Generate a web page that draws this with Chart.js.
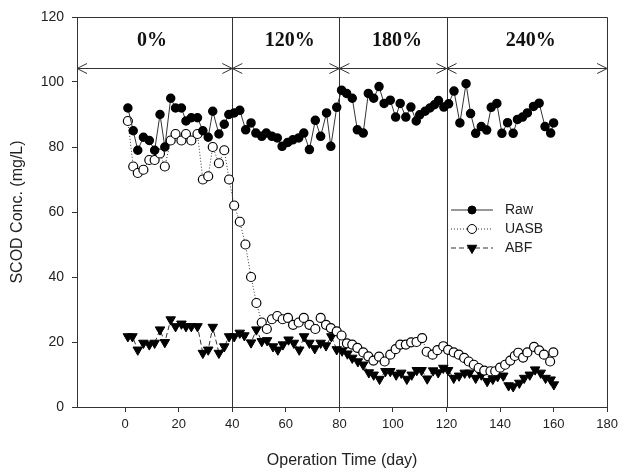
<!DOCTYPE html>
<html>
<head>
<meta charset="utf-8">
<script src="https://cdn.jsdelivr.net/npm/chart.js@4.4.0/dist/chart.umd.min.js"></script>
<style>
html, body { margin: 0; padding: 0; background: #fff; }
canvas { display: block; }
</style>
</head>
<body>
<canvas id="chart" width="623" height="473"></canvas>
<script>
// data
const rawDays = [1,3,4.7,6.8,9,11,13,14.8,17,18.8,21,22.7,24.7,27,29,31,32.7,35,37,38.7,
    40.7,42.8,45,47,48.8,51,52.7,54.8,56.8,58.6,60.7,62.6,64.8,66.7,68.8,71,73,75.2,76.8,79,
    80.8,82.7,84.8,86.7,88.9,90.8,92.8,94.8,96.7,99,101,102.7,104.8,106.7,108.7,110,112,113.8,115.5,117,119,
    120.8,122.8,125,127.3,129,130.9,133,135,136.7,138.8,140.7,142.8,144.9,146.5,148.4,150.2,152.5,154.6,156.8,158.9,160];
const rawValues = [92,85,79,83,82,79,90,80,95,92,92,88,89,89,85,83,91,84,87,90,
    90.5,91.3,85.3,87.4,84.3,83.3,84.3,83.3,82.8,80.2,81.4,82.2,82.8,84.3,79.2,88.2,83.3,90.5,80.2,92.2,
    97.5,96.5,95,85.3,84.3,96.5,95,98.6,93.4,94.4,89.2,93.4,89.2,92.3,88,89.9,91,92,93,94.3,92.3,
    93.3,97.2,87.4,99.5,90.3,84.2,86.3,85.2,92.2,93.4,84.2,87.5,84.2,88.5,89.2,90.5,92.5,93.5,86.3,84.3,87.4];

const uasbDays = [1,3,4.7,6.8,9,11,13,14.8,17,18.8,21,22.7,24.7,27,29,31,32.7,35,37,38.8,
    40.7,42.8,44.9,47,49,51,52.9,54.8,56.8,58.8,60.8,62.7,64.8,66.7,68.8,71,73,75,76.8,79,
    80.8,82.8,84.8,86.7,88.9,90.8,92.7,94.8,96.9,99,101,102.7,104.8,106.8,108.8,110.9,112.6,114.8,116.6,118.8,
    120.6,122.7,124.6,126.6,128.3,130.2,132,134.1,136.4,138.2,140,141.9,143.8,145.5,146.8,148.6,150.2,152.7,154.6,156.4,158.7,159.9];
const uasbValues = [88,74,72,73,76,76,78,74,82,84,82,84,82,84,70,71,80,75,79,70,
    62,57,50,40,32,26,24,27,28,27,27.4,25.3,26,27.4,25.3,24,27.4,25.3,24.3,23.3,
    22,19.6,19.2,18.2,16.8,15.6,14.3,15.5,14,16.1,17.8,19.2,19.2,19.9,20,21.2,17,16.1,17.5,18.7,
    17.6,16.8,16.1,15.1,14,13,12,11.2,11,11,12.1,13,14.3,15.7,16.7,15.2,16.8,18.5,17.4,16.1,14,16.8];

const abfDays = [1,2.7,4.7,6.8,9,11,13,14.8,17,18.8,21,22.7,24.7,27,29,31,32.7,35,37,38.8,
    40.7,42.8,44.5,47,49,51,53,55.2,57,58.9,61,63,65,66.8,68.8,70.8,73,75,77,79,
    81,83,84.8,86.9,88.9,91,92.8,95,97.2,99,101.2,103.1,105.2,107,108.9,110.7,112.8,115,116.9,118.8,
    120.6,122.7,124.7,126.8,128.6,130.9,133,135.2,137.3,139.1,141.2,143.2,144.9,147.2,149,151.1,153.1,155.2,157,158.9,160.1];
const abfValues = [21.7,21.7,17.6,19.7,19.2,19.7,23.8,19.9,26.9,24.8,25.6,24.8,24.8,24.8,16.6,17.6,24.6,16.6,18.6,21.7,
    21.7,22.8,22,19.8,23.8,20.2,20.5,18.6,17.6,19.2,20.7,19.7,17.6,21.7,19.7,18,19.7,18.9,21.7,17.7,
    17.3,16.4,15.1,14,13,10.6,9.9,8.6,11,11,9.9,10.5,8.6,9.9,11.3,11.3,8.7,11.2,10.6,12,
    11.3,8.9,9.6,10.5,10.5,8.9,9.9,7.9,8.6,9.4,9.6,6.6,6.3,7.4,8.9,9.9,11.5,10.5,8.9,8.4,6.9];

// phases
const phaseBounds = [-18, 40, 80, 120, 180];
const phaseLabels = ['0%', '120%', '180%', '240%'];
const phaseLabelDays = [10, 61.5, 101.5, 151.5];
const phaseLabelLevel = 112.6;
const arrowLevel = 104.2;

const xTicks = [0, 20, 40, 60, 80, 100, 120, 140, 160, 180];
const yTicks = [0, 20, 40, 60, 80, 100, 120];

const lineColor = '#333';
const textColor = '#222';
const sansFamily = 'Liberation Sans, Arial, sans-serif';

function toPoints(days, values) {
    return days.map(function(d, i) { return { x: d, y: values[i] }; });
}

const overlay = {
    id: 'overlay',
    beforeDatasetsDraw: function(chart) {
        const ctx = chart.ctx;
        const xs = chart.scales.x, ys = chart.scales.y;
        const area = chart.chartArea;
        ctx.save();
        ctx.strokeStyle = lineColor;
        ctx.lineWidth = 1;
        // phase separators
        phaseBounds.slice(1, -1).forEach(function(d) {
            const px = Math.round(xs.getPixelForValue(d)) + 0.5;
            ctx.beginPath();
            ctx.moveTo(px, area.top);
            ctx.lineTo(px, area.bottom);
            ctx.stroke();
        });
        // double arrow line
        const ay = Math.round(ys.getPixelForValue(arrowLevel)) + 0.5;
        ctx.beginPath();
        ctx.moveTo(area.left, ay);
        ctx.lineTo(area.right, ay);
        ctx.stroke();
        const aw = 10, ah = 5;
        phaseBounds.forEach(function(d, i) {
            const px = xs.getPixelForValue(d);
            ctx.beginPath();
            if (i < phaseBounds.length - 1) {
                ctx.moveTo(px + aw, ay - ah); ctx.lineTo(px, ay); ctx.lineTo(px + aw, ay + ah);
            }
            if (i > 0) {
                ctx.moveTo(px - aw, ay - ah); ctx.lineTo(px, ay); ctx.lineTo(px - aw, ay + ah);
            }
            ctx.stroke();
        });
        // phase labels
        ctx.fillStyle = '#111';
        ctx.font = 'bold 20px "Liberation Serif", "Times New Roman", serif';
        ctx.textAlign = 'center';
        ctx.textBaseline = 'middle';
        phaseLabels.forEach(function(t, i) {
            ctx.fillText(t, xs.getPixelForValue(phaseLabelDays[i]), ys.getPixelForValue(phaseLabelLevel));
        });
        ctx.restore();
    },
    afterDraw: function(chart) {
        const ctx = chart.ctx;
        const area = chart.chartArea;
        ctx.save();
        ctx.strokeStyle = lineColor;
        ctx.lineWidth = 1;
        ctx.beginPath();
        ctx.moveTo(Math.round(area.left) + 0.5, Math.round(area.top) + 0.5);
        ctx.lineTo(Math.round(area.right) + 0.5, Math.round(area.top) + 0.5);
        ctx.lineTo(Math.round(area.right) + 0.5, Math.round(area.bottom) + 0.5);
        ctx.stroke();

        // legend inside the plot
        const lx = 451, ly = 210, gap = 19;
        chart.data.datasets.forEach(function(ds, i) {
            const y = ly + i * gap;
            ctx.strokeStyle = lineColor;
            ctx.lineWidth = 1;
            ctx.setLineDash(ds.borderDash || []);
            ctx.beginPath();
            ctx.moveTo(lx, y);
            ctx.lineTo(lx + 42, y);
            ctx.stroke();
            ctx.setLineDash([]);
            ctx.fillStyle = ds.pointBackgroundColor;
            ctx.strokeStyle = ds.pointBorderColor;
            Chart.helpers.drawPoint(ctx, {
                pointStyle: ds.pointStyle,
                rotation: ds.pointRotation || 0,
                radius: ds.pointRadius,
                borderWidth: ds.pointBorderWidth
            }, lx + 21, y);
            ctx.fillStyle = textColor;
            ctx.font = '14px ' + sansFamily;
            ctx.textAlign = 'left';
            ctx.textBaseline = 'middle';
            ctx.fillText(ds.label, lx + 54, y);
        });
        ctx.restore();
    }
};

const ctx = document.getElementById('chart');
new Chart(ctx, {
    type: 'line',
    data: {
        datasets: [{
            label: 'Raw',
            data: toPoints(rawDays, rawValues),
            borderColor: lineColor,
            borderWidth: 1,
            pointStyle: 'circle',
            pointRadius: 4,
            pointBorderWidth: 1.5,
            pointBackgroundColor: '#000',
            pointBorderColor: '#000',
            fill: false
        }, {
            label: 'UASB',
            data: toPoints(uasbDays, uasbValues),
            borderColor: lineColor,
            borderWidth: 1,
            borderDash: [1, 2],
            pointStyle: 'circle',
            pointRadius: 4.5,
            pointBorderWidth: 1.2,
            pointBackgroundColor: '#fff',
            pointBorderColor: '#000',
            fill: false
        }, {
            label: 'ABF',
            data: toPoints(abfDays, abfValues),
            borderColor: lineColor,
            borderWidth: 1,
            borderDash: [5, 3],
            pointStyle: 'triangle',
            pointRotation: 180,
            pointRadius: 5.5,
            pointBorderWidth: 1,
            pointBackgroundColor: '#000',
            pointBorderColor: '#000',
            fill: false
        }]
    },
    options: {
        responsive: false,
        animation: false,
        layout: { padding: { left: 0, right: 11, top: 17, bottom: 0 } },
        plugins: { legend: { display: false }, tooltip: { enabled: false } },
        scales: {
            x: {
                type: 'linear',
                min: -18,
                max: 180,
                afterBuildTicks: function(scale) {
                    scale.ticks = xTicks.map(function(v) { return { value: v }; });
                },
                afterFit: function(scale) { scale.height = 66; },
                grid: { drawOnChartArea: false, drawTicks: true, tickLength: 5, color: lineColor },
                border: { color: lineColor, width: 1 },
                ticks: { color: textColor, font: { family: sansFamily, size: 13 }, padding: 5, maxRotation: 0, autoSkip: false },
                title: {
                    display: true,
                    text: 'Operation Time (day)',
                    color: textColor,
                    font: { family: sansFamily, size: 16 },
                    padding: { top: 0, bottom: 3 }
                }
            },
            y: {
                type: 'linear',
                min: 0,
                max: 120,
                afterBuildTicks: function(scale) {
                    scale.ticks = yTicks.map(function(v) { return { value: v }; });
                },
                afterFit: function(scale) { scale.width = 77; },
                grid: { drawOnChartArea: false, drawTicks: true, tickLength: 5, color: lineColor },
                border: { color: lineColor, width: 1 },
                ticks: { color: textColor, font: { family: sansFamily, size: 14 }, padding: 8 },
                title: {
                    display: true,
                    text: 'SCOD Conc. (mg/L)',
                    color: textColor,
                    font: { family: sansFamily, size: 16 },
                    padding: { top: 8, bottom: 0 }
                }
            }
        }
    },
    plugins: [overlay]
});
</script>
</body>
</html>
